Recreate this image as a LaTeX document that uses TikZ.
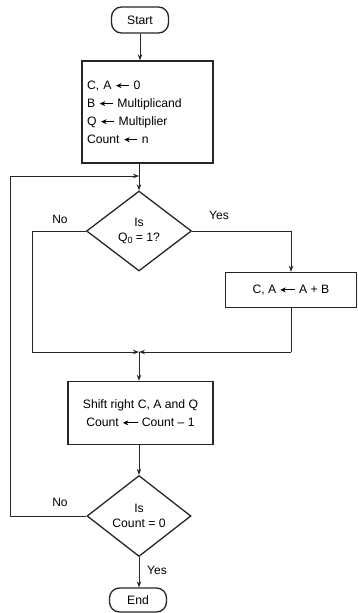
\documentclass[tikz,border=0pt]{standalone}
\usepackage{fontspec}
\setmainfont{Liberation Sans}
\usetikzlibrary{shapes.geometric,arrows.meta}
\newcommand{\larr}[1][14pt]{\tikz[baseline=-0.55ex]\draw[line width=1.1pt,{Stealth[length=5.5pt,width=5pt]}-] (0,0)--(#1,0);}
\tikzset{
  line/.style={line width=1pt, draw=black!85},
  flow/.style={line, -{Stealth[length=6pt,width=4.5pt]}},
  term/.style={draw=black!85, line width=1.3pt, rounded corners=10pt, inner sep=0pt},
  proc/.style={draw=black!85, line width=1.4pt, inner sep=0pt},
  dec/.style={diamond, draw=black!85, line width=1.3pt, inner sep=0pt, align=center,
              font=\fontsize{12.2}{14.5}\selectfont},
  lbl/.style={font=\fontsize{12}{13}\selectfont, inner sep=0pt},
}
\begin{document}
\begin{tikzpicture}[x=1pt,y=1pt, font=\fontsize{12.2}{18}\selectfont]
\useasboundingbox[fill=white] (0,0) rectangle (358,-613);
% nodes
\node[term, minimum width=57pt, minimum height=26pt] (start) at (140,-20) {Start};
\node[proc, minimum width=131pt, minimum height=102pt, text width=121pt, align=left] (init) at (147.5,-112)
  {C, A \larr[13pt] 0\\B \larr[13pt] Multiplicand\\Q \larr[13pt] Multiplier\\Count \larr[13pt] n};
\coordinate (j1) at (139,-176);
\node[dec, minimum width=105pt, minimum height=80pt] (d1) at (139,-231) {Is\\Q\raisebox{-0.35ex}{\fontsize{9}{9}\selectfont 0} = 1?};
\node[proc, minimum width=131pt, minimum height=35pt] (addb) at (291,-290) {C, A \larr[15pt] A + B};
\node[proc, minimum width=145pt, minimum height=63pt, align=center] (shift) at (140.5,-413)
  {Shift right C, A and Q\\Count \larr[15pt] Count -- 1};
\node[dec, minimum width=104pt, minimum height=81pt] (d2) at (139,-516) {Is\\Count = 0};
\node[term, minimum width=57pt, minimum height=24pt] (end) at (138,-600) {End};
\coordinate (j2) at (139,-352);
\coordinate (nol) at (32,-231);
\coordinate (yesr) at (291,-231);
\coordinate (loopl) at (10,-516);
% connectors
\draw[flow] (start) -- (start.south |- init.north);
\draw[line] (j1 |- init.south) -- (j1);
\draw[flow] (j1) -- (d1.north);
\draw[line] (d1.east) -- (yesr);
\draw[flow] (yesr) -- (addb.north);
\draw[line] (d1.west) -- (nol) -- (nol |- j2);
\draw[flow] (nol |- j2) -- (j2);
\draw[line] (addb.south) -- (addb.south |- j2);
\draw[flow] (addb.south |- j2) -- (j2);
\draw[flow] (j2) -- (j2 |- shift.north);
\draw[flow] (j2 |- shift.south) -- (d2.north);
\draw[line] (d2.west) -- (loopl) -- (loopl |- j1);
\draw[flow] (loopl |- j1) -- (j1);
\draw[flow] (d2.south) -- (d2.south |- end.north);
% labels
\node[lbl] (no1) at (60,-219) {No};
\node[lbl] (yes1) at (219,-215) {Yes};
\node[lbl] (no2) at (60,-502) {No};
\node[lbl] (yes2) at (157,-570) {Yes};
\end{tikzpicture}
\end{document}
